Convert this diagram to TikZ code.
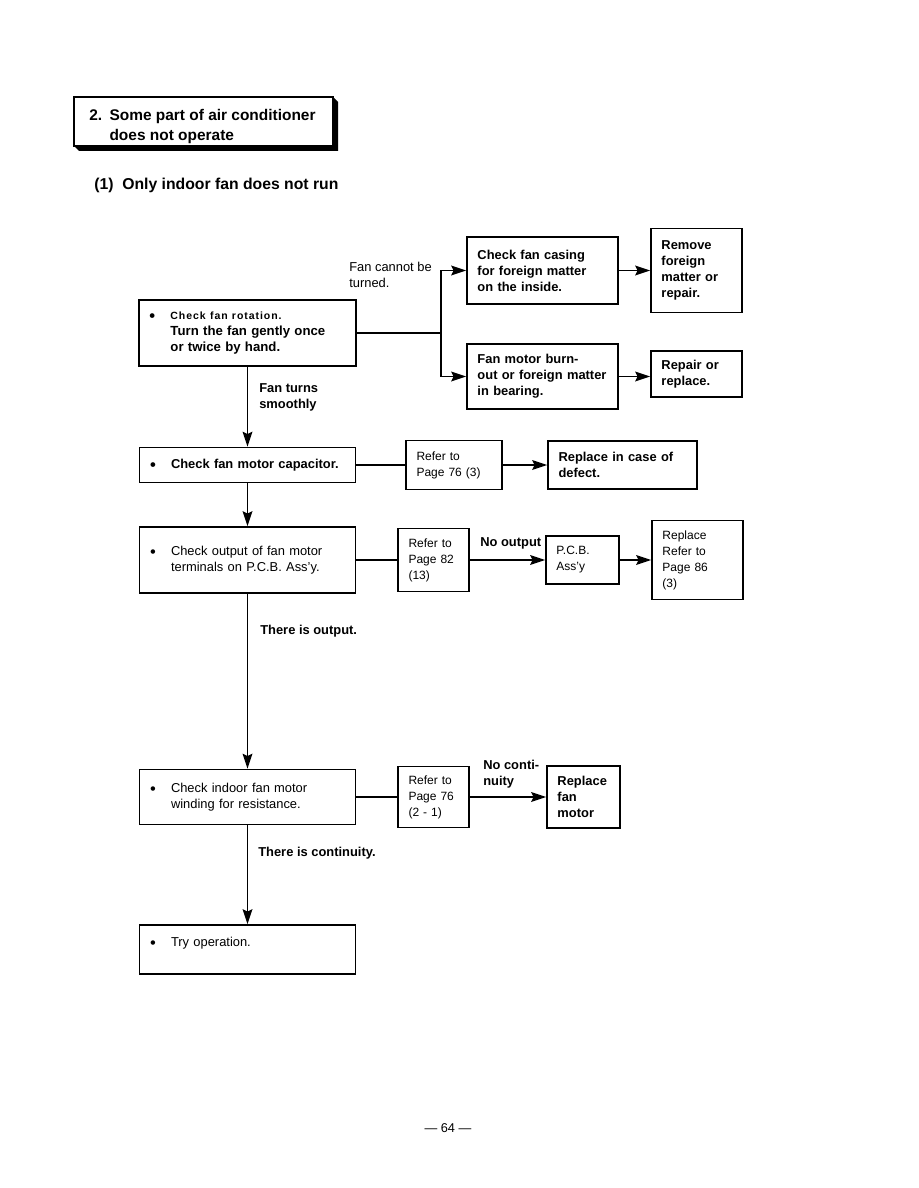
\documentclass[tikz,border=0pt]{standalone}
\usepackage{fontspec}
\setmainfont{Liberation Sans}
\usetikzlibrary{arrows.meta}
\newcommand{\itm}{\makebox[14pt][l]{\raisebox{-1.6pt}{\fontsize{11}{10}\selectfont\textbullet}}}
\newcommand{\ind}{\hspace*{14pt}}

\begin{document}
\begin{tikzpicture}[x=0.6667pt, y=-0.6667pt,
  box/.style={draw, line width=1pt, inner xsep=7pt, inner ysep=2pt, align=left},
  sz/.style 2 args={text width=#1pt, minimum height=#2*0.6667pt},
  bt/.style={font=\fontsize{8.6}{10.7}\selectfont\bfseries},
  nt/.style={font=\fontsize{8.6}{10.7}\selectfont},
  st/.style={font=\fontsize{8}{10.7}\selectfont},
  ln/.style={line width=1pt},
  arr/.style={ln, -{Stealth[length=10pt, width=6.5pt, inset=1.5pt]}}]
  \useasboundingbox (0,0) rectangle (918,1188);

  \draw[line width=0.7pt] (74,97) rectangle (333,146);
  \fill (333,97) -- (338,102) -- (338,151) -- (79,151) -- (74,146) -- (333,146) -- cycle;
  \node[anchor=north west, align=left, font=\fontsize{10.3}{13.3}\selectfont\bfseries] (ttl) at (84,104)
    {\makebox[13.5pt][l]{2.}Some part of air conditioner\\\hspace*{13.5pt}does not operate};
  \node[anchor=west, font=\fontsize{10.5}{12}\selectfont\bfseries] (sub) at (89,185) {(1)\ \ Only indoor fan does not run};

  \node[box, sz={130.7}{66}, bt] (rot) at (247.5,333)
    {\itm{\fontsize{7}{10.7}\selectfont\addfontfeature{LetterSpace=9}Check fan rotation.}\\\ind{\fontsize{8.8}{10.7}\selectfont Turn the fan gently once}\\\ind{\fontsize{8.8}{10.7}\selectfont or twice by hand.}};
  \node[box, sz={86.7}{67}, bt] (casing) at (542.5,270.5) {Check fan casing\\for foreign matter\\on the inside.};
  \node[box, sz={46.7}{84}, bt] (remove) at (696.5,270.5) {Remove\\foreign\\matter or\\repair.};
  \node[box, sz={86.7}{65}, bt] (burn) at (542.5,376.5) {Fan motor burn-\\out or foreign matter\\in bearing.};
  \node[box, sz={46.7}{46}, bt] (repair) at (696.5,374) {Repair or\\replace.};

  \node[box, sz={130}{35}, bt] (cap) at (247.5,465) {\itm Check fan motor capacitor.};
  \node[box, sz={50}{49}, st] (ref1) at (454,465) {Refer to\\Page 76 (3)};
  \node[box, sz={85.3}{48}, bt] (defect) at (622.5,465) {Replace in case of\\defect.};

  \node[box, sz={130}{66}, nt] (out) at (247.5,560) {\itm Check output of fan motor\\\ind terminals on P.C.B. Ass'y.};
  \node[box, sz={33.3}{63}, st] (ref2) at (433.5,560) {Refer to\\Page 82\\(13)};
  \node[box, sz={34.7}{48}, st] (pcb) at (582.5,560) {P.C.B.\\Ass'y};
  \node[box, sz={46.7}{79}, st] (ref3) at (697.5,560) {Replace\\Refer to\\Page 86\\(3)};

  \node[box, sz={130}{55}, nt] (wind) at (247.5,797) {\itm Check indoor fan motor\\\ind winding for resistance.};
  \node[box, sz={33.3}{61}, st] (ref4) at (433.5,797) {Refer to\\Page 76\\(2 - 1)};
  \node[box, sz={34.7}{62}, bt] (motor) at (583.5,797) {Replace\\fan\\motor};

  \node[box, sz={130}{49}, nt] (try) at (247.5,949.5) {\itm Try operation.\\~};

  \node[anchor=north west, nt, align=left] (cant) at (344,257) {Fan cannot be\\turned.};
  \node[anchor=north west, bt, align=left] (smooth) at (254,378) {Fan turns\\smoothly};
  \node[anchor=west, bt] (noout) at (475,543) {No output};
  \node[anchor=west, bt] (isout) at (255,631) {There is output.};
  \node[anchor=north west, bt, align=left] (nocont) at (478,755) {No conti-\\nuity};
  \node[anchor=west, bt] (iscont) at (253,853) {There is continuity.};
  \node[font=\fontsize{8.5}{10}\selectfont] (pg) at (448,1128) {\textemdash\ 64 \textemdash};

  \coordinate (jn) at (441,333);
  \draw[ln] (rot) -- (jn);
  \draw[arr] (jn) |- (casing);
  \draw[arr] (jn) |- (burn);
  \draw[arr] (casing) -- (remove);
  \draw[arr] (burn.east) -- (burn.east -| repair.west);
  \draw[arr] (rot) -- (cap);
  \draw[ln] (cap) -- (ref1);
  \draw[arr] (ref1) -- (defect);
  \draw[arr] (cap) -- (out);
  \draw[ln] (out) -- (ref2);
  \draw[arr] (ref2) -- (pcb);
  \draw[arr] (pcb) -- (ref3);
  \draw[arr] (out) -- (wind);
  \draw[ln] (wind) -- (ref4);
  \draw[arr] (ref4) -- (motor);
  \draw[arr] (wind) -- (try);
\end{tikzpicture}
\end{document}
